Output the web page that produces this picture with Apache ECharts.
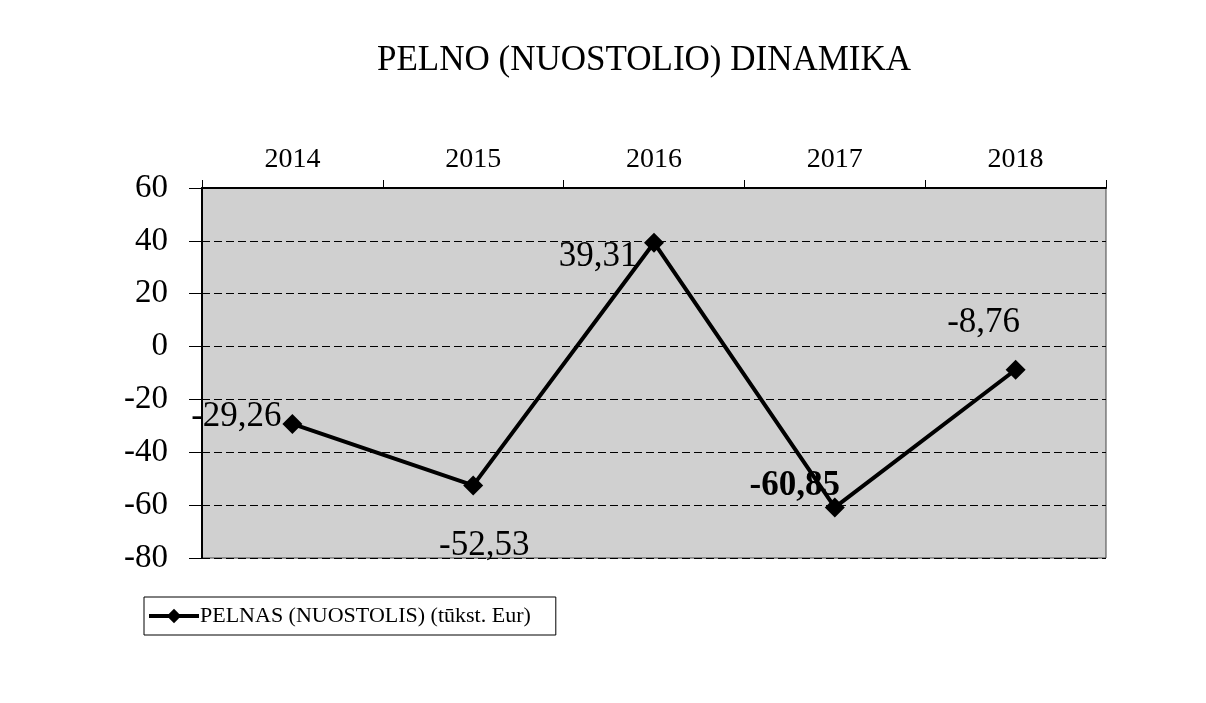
<!DOCTYPE html>
<html>
<head>
<meta charset="utf-8">
<script src="https://cdn.jsdelivr.net/npm/echarts@6/dist/echarts.min.js"></script>
<style>
html,body{margin:0;padding:0;background:#fff;}
#chart{width:1206px;height:703px;}
</style>
</head>
<body>
<div id="chart"></div>
<script>
var titleText = 'PELNO (NUOSTOLIO) DINAMIKA';
var seriesName = 'PELNAS (NUOSTOLIS) (tūkst. Eur)';
var years = ['2014', '2015', '2016', '2017', '2018'];
var profit = [-29.26, -52.53, 39.31, -60.85, -8.76];
var yTicks = [-80, -60, -40, -20, 0, 20, 40, 60];

// label placement (style only): offset from the point's centre
var labelStyles = [
  {offset: [-56, -7]},
  {offset: [11, 60]},
  {offset: [-56, 14]},
  {offset: [-40, -21], fontWeight: 'bold'},
  {offset: [-32, -47]}
];

function fmt(v) { return v.toFixed(2).replace('.', ','); }

var data = profit.map(function (v, i) {
  var ls = labelStyles[i];
  return {
    value: v,
    label: {
      show: true,
      position: 'inside',
      offset: ls.offset,
      fontWeight: ls.fontWeight || 'normal',
      formatter: function (p) { return fmt(p.value); }
    }
  };
});

var chart = echarts.init(document.getElementById('chart'), null, {renderer: 'canvas'});
chart.setOption({
  animation: false,
  backgroundColor: '#ffffff',
  textStyle: {fontFamily: 'Liberation Serif'},
  title: {
    text: titleText,
    left: 372,
    top: 38,
    textStyle: {fontFamily: 'Liberation Serif', fontSize: 35, fontWeight: 'normal', color: '#000'}
  },
  legend: {
    show: true,
    left: 144,
    top: 597,
    itemWidth: 50,
    itemHeight: 18,
    itemGap: 0,
    padding: [8, 25, 8, 3],
    borderColor: '#000',
    borderWidth: 1,
    lineStyle: {width: 4, color: '#000'},
    textStyle: {fontFamily: 'Liberation Serif', fontSize: 22, color: '#000', padding: [0, 0, 0, -4]},
    data: [seriesName]
  },
  grid: {
    left: 202,
    right: 100,
    top: 188,
    bottom: 145,
    show: true,
    backgroundColor: '#d0d0d0',
    borderColor: '#444',
    borderWidth: 1
  },
  xAxis: {
    type: 'category',
    position: 'top',
    data: years,
    boundaryGap: true,
    axisLine: {show: true, onZero: false, lineStyle: {color: '#000', width: 2}},
    axisTick: {show: true, inside: false, length: 8, lineStyle: {color: '#000', width: 1}},
    axisLabel: {fontFamily: 'Liberation Serif', fontSize: 28, color: '#000', margin: 14},
    splitLine: {show: false}
  },
  yAxis: {
    type: 'value',
    min: yTicks[0],
    max: yTicks[yTicks.length - 1],
    interval: 20,
    axisLine: {show: true, onZero: false, lineStyle: {color: '#000', width: 2}},
    axisTick: {show: true, length: 13, lineStyle: {color: '#000', width: 1}},
    axisLabel: {fontFamily: 'Liberation Serif', fontSize: 33, color: '#000', margin: 34},
    splitLine: {show: true, lineStyle: {color: '#000', type: [8, 4], width: 1}}
  },
  series: [{
    name: seriesName,
    type: 'line',
    data: data,
    symbol: 'diamond',
    symbolSize: 20,
    lineStyle: {color: '#000', width: 4},
    itemStyle: {color: '#000'},
    label: {fontFamily: 'Liberation Serif', fontSize: 35, color: '#000', textBorderWidth: 0},
    z: 5
  }]
});
</script>
</body>
</html>
